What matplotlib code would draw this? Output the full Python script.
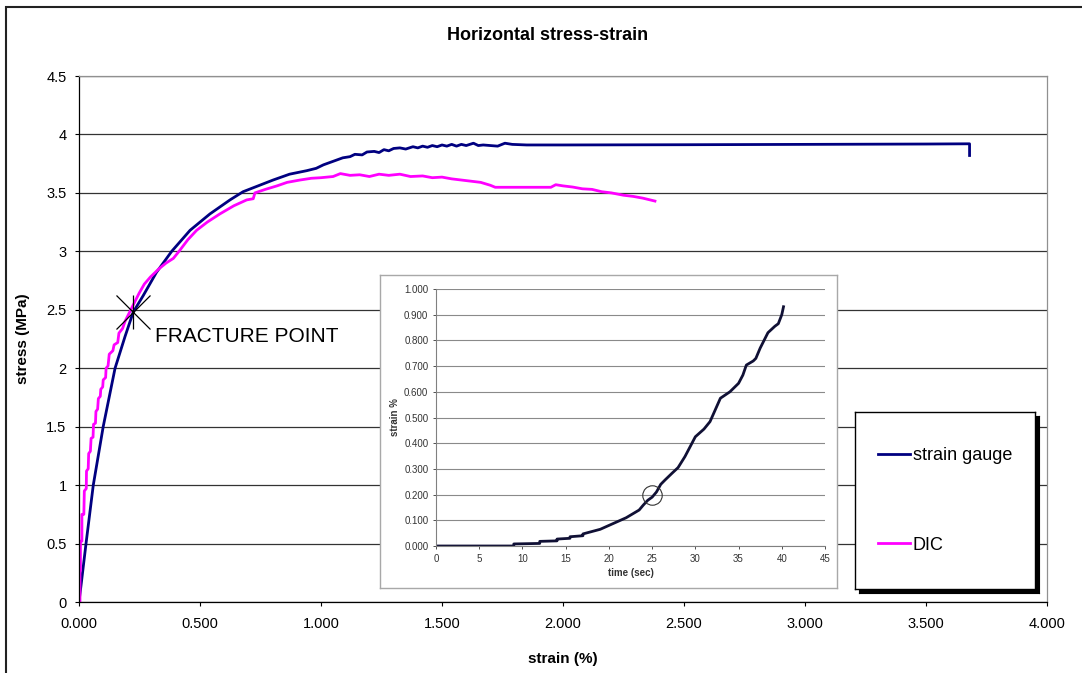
import matplotlib.pyplot as plt
from matplotlib.patches import Rectangle

plt.rcParams['font.family'] = ['Liberation Sans', 'DejaVu Sans']

# %% data
sg_strain = [0, 0.010, 0.029, 0.059, 0.100, 0.149, 0.190, 0.224, 0.265, 0.320, 0.383,
             0.459, 0.541, 0.624, 0.678, 0.740, 0.802, 0.870, 0.941, 0.980, 1.010,
             1.050, 1.090, 1.120, 1.140, 1.170, 1.190, 1.220, 1.240, 1.260, 1.280,
             1.300, 1.326, 1.350, 1.380, 1.400, 1.420, 1.440, 1.460, 1.480, 1.500,
             1.520, 1.540, 1.560, 1.580, 1.600, 1.630, 1.650, 1.670, 1.700, 1.730,
             1.760, 1.790, 1.850, 2.000, 2.500, 3.000, 3.500, 3.680, 3.680]
sg_stress = [0, 0.17, 0.50, 1.00, 1.50, 2.00, 2.27, 2.48, 2.62, 2.82, 3.00,
             3.18, 3.32, 3.44, 3.51, 3.56, 3.61, 3.66, 3.69, 3.71, 3.74,
             3.77, 3.80, 3.81, 3.83, 3.825, 3.85, 3.855, 3.845, 3.87, 3.86,
             3.88, 3.885, 3.875, 3.895, 3.885, 3.90, 3.89, 3.905, 3.895, 3.91,
             3.90, 3.915, 3.90, 3.915, 3.905, 3.925, 3.905, 3.91, 3.905, 3.90,
             3.925, 3.915, 3.91, 3.91, 3.912, 3.915, 3.918, 3.92, 3.82]

dic_strain = [0, 0.004, 0.004, 0.006, 0.006, 0.012, 0.012, 0.020, 0.022, 0.030, 0.031,
              0.038, 0.040, 0.047, 0.050, 0.058, 0.060, 0.068, 0.070, 0.077, 0.080,
              0.088, 0.090, 0.098, 0.100, 0.110, 0.112, 0.120, 0.125, 0.140, 0.145,
              0.160, 0.165, 0.180, 0.190, 0.214, 0.248, 0.270, 0.295, 0.330, 0.360,
              0.390, 0.417, 0.450, 0.486, 0.530, 0.582, 0.640, 0.693, 0.720, 0.727,
              0.770, 0.818, 0.860, 0.913, 0.960, 1.000, 1.050, 1.080, 1.120, 1.160,
              1.200, 1.240, 1.280, 1.326, 1.370, 1.420, 1.460, 1.500, 1.540, 1.580,
              1.620, 1.660, 1.700, 1.720, 1.950, 1.970, 2.000, 2.040, 2.080, 2.120,
              2.160, 2.200, 2.250, 2.290, 2.330, 2.360, 2.380]
dic_stress = [0, 0, 0.27, 0.27, 0.52, 0.52, 0.75, 0.75, 0.95, 0.97, 1.12,
              1.14, 1.27, 1.29, 1.40, 1.41, 1.52, 1.53, 1.63, 1.65, 1.74,
              1.76, 1.82, 1.84, 1.90, 1.92, 2.00, 2.02, 2.12, 2.15, 2.20,
              2.22, 2.30, 2.34, 2.40, 2.50, 2.64, 2.72, 2.78, 2.85, 2.90,
              2.94, 3.01, 3.10, 3.18, 3.25, 3.32, 3.39, 3.44, 3.45, 3.50,
              3.53, 3.56, 3.59, 3.61, 3.625, 3.63, 3.64, 3.665, 3.65, 3.655,
              3.64, 3.66, 3.65, 3.66, 3.64, 3.645, 3.63, 3.635, 3.62, 3.61,
              3.60, 3.59, 3.565, 3.548, 3.548, 3.57, 3.56, 3.55, 3.535, 3.53,
              3.51, 3.50, 3.48, 3.47, 3.455, 3.44, 3.43]

fracture_strain = [0.224]
fracture_stress = [2.48]

# inset: strain % vs time
inset_time = [0, 9, 9, 12, 12, 14, 14, 15.5, 15.5, 17, 17, 18, 19, 20, 21, 22, 23,
              23.5, 24, 24.5, 25, 25.5, 26, 26.5, 27.3, 28, 28.8, 30, 31, 31.7, 32.9,
              34, 35, 35.5, 35.9, 36.7, 37, 37.5, 38.4, 39.2, 39.6, 40.0, 40.2]
inset_strain = [0, 0, 0.008, 0.01, 0.018, 0.02, 0.027, 0.03, 0.036, 0.04, 0.047, 0.056, 0.065,
                0.08, 0.095, 0.11, 0.13, 0.14, 0.16, 0.178, 0.19, 0.21, 0.24, 0.257,
                0.283, 0.305, 0.348, 0.425, 0.455, 0.484, 0.575, 0.60, 0.633, 0.665,
                0.704, 0.72, 0.73, 0.77, 0.83, 0.855, 0.865, 0.90, 0.931]
inset_mark_time = [25]
inset_mark_strain = [0.2]

series_names = ['strain gauge', 'DIC']
series_colors = ['#000080', '#FF00FF']

W, H = 1082, 673
fig = plt.figure(figsize=(W / 100, H / 100), dpi=100)

# %% main chart
ax = fig.add_axes([79 / W, 1 - 602 / H, 968 / W, 526 / H])
l1, = ax.plot(sg_strain, sg_stress, color=series_colors[0], lw=2.0, label=series_names[0])
l2, = ax.plot(dic_strain, dic_stress, color=series_colors[1], lw=2.0, label=series_names[1])
ax.plot(fracture_strain, fracture_stress, marker='x', ms=25, mew=0.9, color='black', ls='none')
ax.plot(fracture_strain, fracture_stress, marker='|', ms=24, mew=0.9, color='black', ls='none')
ax.text(0.314, 2.275, 'FRACTURE POINT', fontsize=15, va='center', ha='left')

ax.set_xlim(0, 4)
ax.set_ylim(0, 4.5)
xt = [i * 0.5 for i in range(9)]
yt = [i * 0.5 for i in range(10)]
ax.set_xticks(xt)
ax.set_xticklabels(['%.3f' % v for v in xt])
ax.set_yticks(yt)
ax.set_yticklabels(['%g' % v for v in yt])
ax.tick_params(direction='out', length=3, width=0.8, labelsize=10.5)
ax.tick_params(axis='x', pad=8)
ax.tick_params(axis='y', pad=6)
ax.grid(axis='y', color='#333333', lw=0.9)
ax.set_axisbelow(True)
for s in ['left', 'bottom']:
    ax.spines[s].set_color('black')
    ax.spines[s].set_linewidth(0.9)
for s in ['right', 'top']:
    ax.spines[s].set_color('#909090')
    ax.spines[s].set_linewidth(0.9)
ax.set_xlabel('strain (%)', fontsize=11, fontweight='bold')
ax.set_ylabel('stress (MPa)', fontsize=11, fontweight='bold')
ax.xaxis.set_label_coords(0.5, -0.095)
ax.yaxis.set_label_coords(-0.0506, 0.5)

fig.text(548 / W, 1 - 36 / H, 'Horizontal stress-strain', fontsize=13, fontweight='bold',
         ha='center', va='center')

# %% legend box with shadow
shadow = fig.add_axes([859 / W, 1 - 593 / H, 180 / W, 177 / H])
shadow.set_facecolor('black')
shadow.set_xticks([])
shadow.set_yticks([])
shadow.set_zorder(4)
lbox = fig.add_axes([855 / W, 1 - 589 / H, 180 / W, 177 / H])
lbox.set_xticks([])
lbox.set_yticks([])
for s in lbox.spines.values():
    s.set_color('black')
    s.set_linewidth(1.0)
lbox.set_zorder(5)
lbox.legend(handles=[l1, l2], loc='center', frameon=False, fontsize=13,
            labelspacing=4.0, handlelength=1.77, handletextpad=0.17)

# %% inset chart
box = fig.add_axes([380 / W, 1 - 588 / H, 457 / W, 313 / H])
box.set_xticks([])
box.set_yticks([])
for s in box.spines.values():
    s.set_color('#a8a8a8')
    s.set_linewidth(1.0)
box.set_zorder(2)

ins = fig.add_axes([436 / W, 1 - 546 / H, 389 / W, 257 / H])
ins.set_zorder(3)
ins.plot(inset_time, inset_strain, color='#101035', lw=2.0)
ins.plot(inset_mark_time, inset_mark_strain, marker='o', ms=14, mfc='none', mec='#333333',
         mew=0.8, ls='none')
ins.set_xlim(0, 45)
ins.set_ylim(0, 1.0)
ixt = list(range(0, 50, 5))
iyt = [i / 10 for i in range(11)]
ins.set_xticks(ixt)
ins.set_yticks(iyt)
ins.set_yticklabels(['%.3f' % v for v in iyt])
ins.tick_params(direction='out', length=2.5, width=0.6, labelsize=7, colors='#333333', pad=3)
ins.grid(axis='y', color='#8a8a8a', lw=0.8)
ins.set_axisbelow(True)
for s in ['left', 'bottom']:
    ins.spines[s].set_color('#808080')
    ins.spines[s].set_linewidth(0.8)
for s in ['right', 'top']:
    ins.spines[s].set_visible(False)
ins.set_xlabel('time (sec)', fontsize=7, fontweight='bold', color='#333333', labelpad=3)
ins.set_ylabel('strain %', fontsize=7, fontweight='bold', color='#333333', labelpad=3)

# outer chart frame
fig.add_artist(Rectangle((6 / W, -0.05), 1.1, 1.05 - 7 / H, transform=fig.transFigure,
                         fill=False, edgecolor='#222222', lw=1.5, zorder=10))

fig.savefig('out.png', dpi=100)
